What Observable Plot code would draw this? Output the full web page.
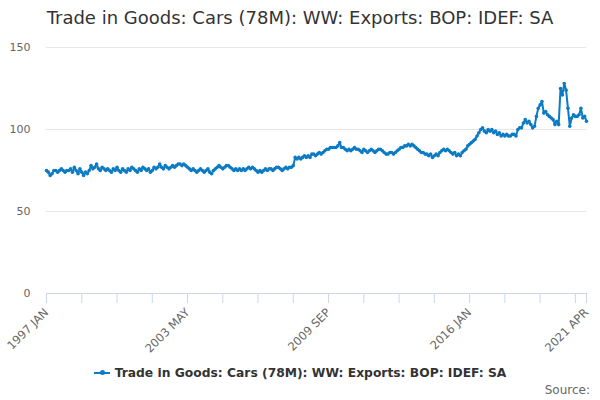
<!DOCTYPE html>
<html><head><meta charset="utf-8">
<script src="https://cdn.jsdelivr.net/npm/d3@7"></script>
<script src="https://cdn.jsdelivr.net/npm/@observablehq/plot@0.6"></script>
<style>
body{margin:0;background:#fff;font-family:"DejaVu Sans",sans-serif;}
#wrap{width:600px;height:400px;position:relative;overflow:hidden;}
#title{height:36px;line-height:36px;text-align:center;font-size:18px;color:#333;white-space:nowrap;}
#chart{height:325px;}
#legend{height:24px;line-height:24px;text-align:center;font-size:12.3px;font-weight:bold;color:#333;white-space:nowrap;}
#legend .sym{display:inline-block;position:relative;width:16px;height:2px;background:#0c7bc4;vertical-align:middle;margin-right:5px;top:-1px;}
#legend .sym::after{content:"";position:absolute;left:6px;top:-1.5px;width:5px;height:5px;border-radius:50%;background:#0c7bc4;}
#source{position:absolute;right:10px;top:383px;font-size:12px;color:#666;}
</style></head><body>
<div id="wrap">
<div id="title">Trade in Goods: Cars (78M): WW: Exports: BOP: IDEF: SA</div>
<div id="chart"></div>
<div id="legend"><span class="sym"></span>Trade in Goods: Cars (78M): WW: Exports: BOP: IDEF: SA</div>
<div id="source">Source:</div>
</div>
<script>
const startYear = 1997;
const monthNames = ["JAN","FEB","MAR","APR","MAY","JUN","JUL","AUG","SEP","OCT","NOV","DEC"];
const y1997 = [75,74,72,73,75,75,74,75,76,75,74,75];
const y1998 = [75,76,74,77,75,73,76,74,72,74,73,75];
const y1999 = [78,76,77,79,76,75,77,76,75,76,75,74];
const y2000 = [76,75,77,75,74,76,75,74,76,75,77,76];
const y2001 = [75,74,76,75,77,76,75,76,74,75,77,76];
const y2002 = [77,79,77,76,78,77,76,77,78,77,78,79];
const y2003 = [79,78,79,78,77,76,75,76,75,74,75,76];
const y2004 = [75,74,75,76,74,73,75,76,77,78,77,76];
const y2005 = [77,78,78,77,76,75,76,75,76,75,76,75];
const y2006 = [76,77,76,77,76,75,74,75,74,75,76,75];
const y2007 = [76,76,75,76,77,77,76,75,76,77,76,77];
const y2008 = [77,78,83,82,83,82,83,84,83,84,83,85];
const y2009 = [85,84,85,86,85,86,87,88,88,89,89,89];
const y2010 = [89,90,92,89,89,88,87,88,87,88,89,88];
const y2011 = [88,87,86,88,87,86,87,88,87,86,87,88];
const y2012 = [88,87,86,85,85,86,86,85,86,87,88,89];
const y2013 = [89,90,90,91,90,91,90,89,88,87,86,86];
const y2014 = [85,85,84,85,83,84,85,84,86,87,88,87];
const y2015 = [88,87,86,85,86,84,85,84,86,87,88,90];
const y2016 = [91,92,93,94,96,98,100,101,99,98,100,99];
const y2017 = [100,98,99,97,98,96,97,96,97,96,96,97];
const y2018 = [97,96,100,101,101,104,106,104,105,103,101,102];
const y2019 = [108,113,115,117,110,111,109,108,107,106,103,105];
const y2020 = [103,125,121,128,124,113,102,107,109,108,108,109];
const y2021 = [113,107,108,105];
const series = [y1997,y1998,y1999,y2000,y2001,y2002,y2003,y2004,y2005,y2006,y2007,y2008,y2009,y2010,y2011,y2012,y2013,y2014,y2015,y2016,y2017,y2018,y2019,y2020,y2021];
const yTicks = [0,50,100,150];
const tickStep = 19;
const labelStep = 76;
const lineColor = "#0c7bc4";

const data = [];
series.forEach((arr, yi) => arr.forEach((v, mi) => {
  data.push({i: data.length, label: (startYear + yi) + " " + monthNames[mi], v});
}));
const last = data.length - 1;
const tickPositions = d3.range(0, last, tickStep).concat([last]);
const labelPositions = d3.range(0, last - labelStep/2, labelStep).concat([last]);

const chart = Plot.plot({
  width: 600, height: 325,
  marginTop: 11, marginBottom: 68, marginLeft: 46, marginRight: 14,
  x: {type: "linear", domain: [0, last]},
  y: {domain: [0, 150]},
  style: {fontFamily: "DejaVu Sans", fontSize: "11px", color: "#666", background: "#fff"},
  marks: [
    Plot.gridY(yTicks.slice(1), {stroke: "#e6e6e6", strokeOpacity: 1}),
    Plot.axisY(yTicks, {tickSize: 0, tickPadding: 16, label: null, fill: "#666"}),
    Plot.ruleY([0], {stroke: "#ccd6eb"}),
    Plot.axisX(tickPositions, {tickSize: 10, stroke: "#ccd6eb", strokeOpacity: 1, tickFormat: () => "", label: null}),
    Plot.axisX(labelPositions, {tickSize: 0, tickPadding: 17, tickRotate: -45, tickFormat: i => data[i].label, label: null, fill: "#666", fontSize: 11.5}),
    Plot.line(data, {x: "i", y: "v", stroke: lineColor, strokeWidth: 2}),
    Plot.dot(data, {x: "i", y: "v", r: 1.8, fill: lineColor})
  ]
});
document.getElementById("chart").appendChild(chart);
</script>
</body></html>
